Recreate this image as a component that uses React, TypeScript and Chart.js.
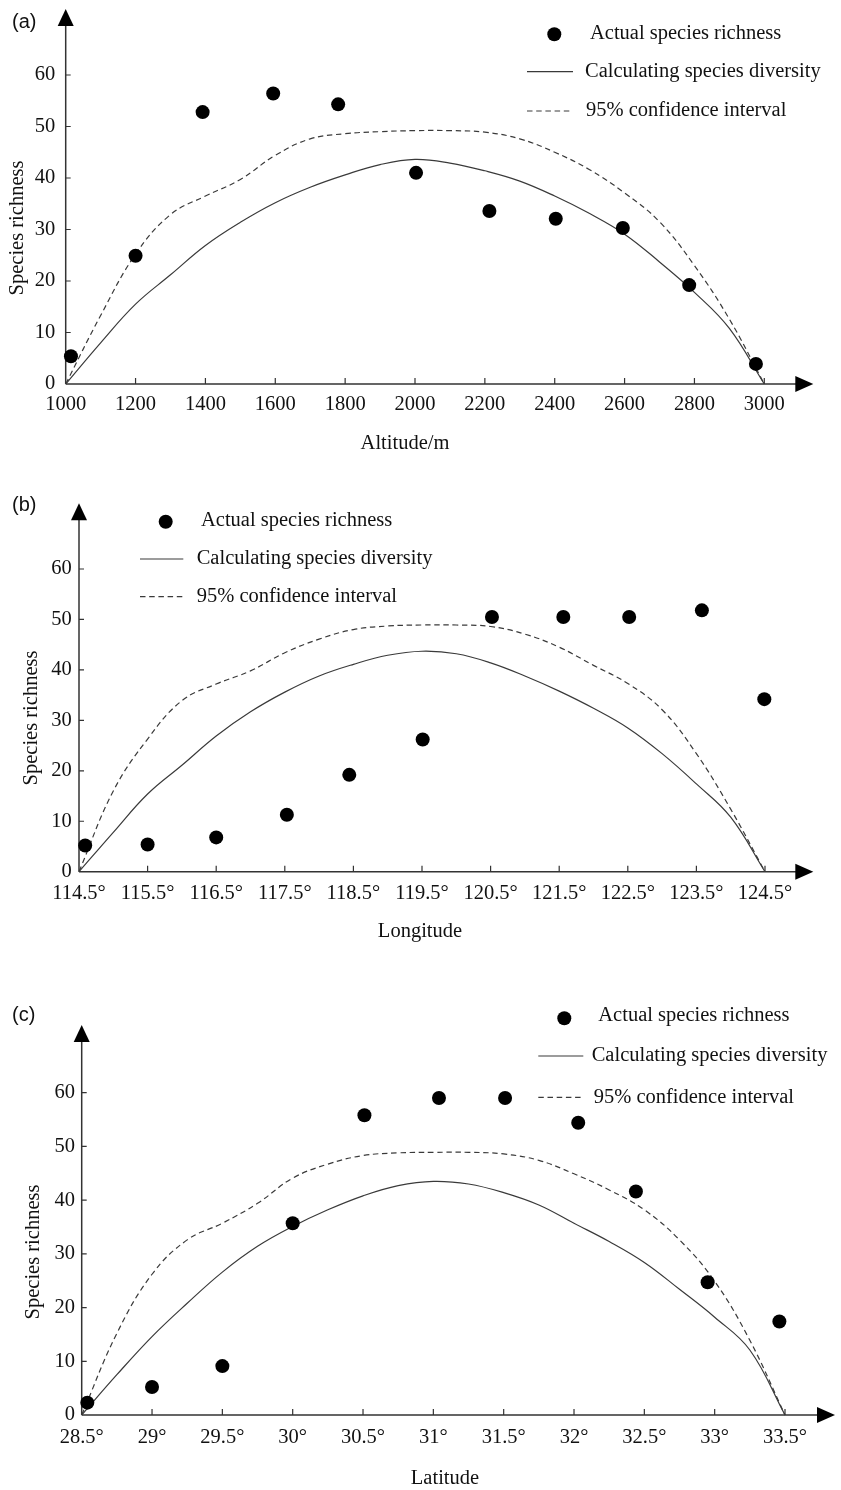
import React, { useEffect, useRef } from 'react';
import { Chart, registerables } from 'chart.js';

Chart.register(...registerables);

// ---------------- data ----------------
const legendLabels = ['Actual species richness', 'Calculating species diversity', '95% confidence interval'];
const richnessTicks = [0, 10, 20, 30, 40, 50, 60];

// (a) altitude
const altitudeTicks = [1000, 1200, 1400, 1600, 1800, 2000, 2200, 2400, 2600, 2800, 3000];
const altitudeTickLabels = ['1000', '1200', '1400', '1600', '1800', '2000', '2200', '2400', '2600', '2800', '3000'];
const altitudeObsX = [1015, 1200, 1392, 1594, 1780, 2003, 2213, 2403, 2595, 2785, 2976];
const altitudeObsY = [5.4, 24.9, 52.8, 56.4, 54.3, 41.0, 33.6, 32.1, 30.3, 19.2, 3.9];
const altitudeCurveX = [1000, 1100, 1200, 1300, 1400, 1500, 1600, 1700, 1800, 1900, 2000, 2100, 2200, 2300, 2400, 2500, 2600, 2700, 2800, 2900, 3000];
const altitudeFitY = [0, 8.0, 15.5, 21.2, 26.9, 31.4, 35.2, 38.2, 40.6, 42.6, 43.6, 42.9, 41.4, 39.4, 36.5, 33.1, 29.1, 23.7, 17.8, 10.8, 0];
const altitudeCiY = [0, 13.3, 25.2, 32.9, 36.5, 39.7, 44.4, 47.6, 48.6, 49.0, 49.2, 49.2, 48.9, 47.6, 45.0, 41.6, 37.1, 31.5, 23.0, 12.6, 0];

// (b) longitude
const longitudeTicks = [114.5, 115.5, 116.5, 117.5, 118.5, 119.5, 120.5, 121.5, 122.5, 123.5, 124.5];
const longitudeTickLabels = ['114.5°', '115.5°', '116.5°', '117.5°', '118.5°', '119.5°', '120.5°', '121.5°', '122.5°', '123.5°', '124.5°'];
const longitudeObsX = [114.59, 115.5, 116.5, 117.53, 118.44, 119.51, 120.52, 121.56, 122.52, 123.58, 124.49];
const longitudeObsY = [5.2, 5.4, 6.8, 11.3, 19.2, 26.2, 50.5, 50.5, 50.5, 51.8, 34.2];
const longitudeCurveX = [114.5, 115, 115.5, 116, 116.5, 117, 117.5, 118, 118.5, 119, 119.5, 120, 120.5, 121, 121.5, 122, 122.5, 123, 123.5, 124, 124.5];
const longitudeFitY = [0, 7.8, 15.4, 21.1, 26.9, 31.7, 35.6, 38.8, 41.1, 42.9, 43.7, 43.2, 41.4, 38.8, 35.8, 32.4, 28.5, 23.4, 17.4, 10.8, 0];
const longitudeCiY = [0, 16.0, 26.3, 33.9, 37.2, 39.8, 43.4, 46.1, 48.0, 48.7, 48.9, 48.9, 48.6, 47.1, 44.5, 40.9, 37.3, 32.1, 23.4, 12.4, 0];

// (c) latitude
const latitudeTicks = [28.5, 29, 29.5, 30, 30.5, 31, 31.5, 32, 32.5, 33, 33.5];
const latitudeTickLabels = ['28.5°', '29°', '29.5°', '30°', '30.5°', '31°', '31.5°', '32°', '32.5°', '33°', '33.5°'];
const latitudeObsX = [28.54, 29.0, 29.5, 30.0, 30.51, 31.04, 31.51, 32.03, 32.44, 32.95, 33.46];
const latitudeObsY = [2.3, 5.2, 9.1, 35.7, 55.8, 59.0, 59.0, 54.4, 41.6, 24.7, 17.4];
const latitudeCurveX = [28.5, 28.75, 29, 29.25, 29.5, 29.75, 30, 30.25, 30.5, 30.75, 31, 31.25, 31.5, 31.75, 32, 32.25, 32.5, 32.75, 33, 33.25, 33.5];
const latitudeFitY = [0, 7.5, 14.6, 20.8, 26.6, 31.4, 35.1, 38.2, 40.8, 42.7, 43.5, 43.0, 41.4, 39.1, 35.7, 32.3, 28.4, 23.4, 18.2, 12.1, 0];
const latitudeCiY = [0, 15.2, 26.2, 32.6, 35.7, 39.4, 44.1, 46.7, 48.3, 48.8, 48.9, 48.9, 48.6, 47.4, 44.9, 41.9, 38.2, 32.6, 24.9, 13.9, 0];

// ---------------- styles ----------------
const SERIF = '"Liberation Serif", "Times New Roman", Times, serif';
const SANS = '"Liberation Sans", Arial, sans-serif';
const TEXT = '#111';
const CURVE = '#3a3a3a';
const AXIS = '#333';
const FS = 20.5;
const DASH = [5.5, 3.7];

type Geo = {
  id: string; label: string; xTitle: string;
  top: number; height: number;
  L: number; R: number; T: number; B: number;
  yTip: number; xTip: number;
  xTitlePos: [number, number]; yTitlePos: [number, number]; tagPos: [number, number];
  yPad: number; xPad: number;
  legDot: [number, number]; legText0: [number, number];
  legLine1: [number, number, number]; legText1: number;
  legLine2: [number, number, number]; legText2: number;
};

type PanelData = {
  ticks: number[]; tickLabels: string[];
  obsX: number[]; obsY: number[];
  curveX: number[]; fitY: number[]; ciY: number[];
};

const panels: { geo: Geo; data: PanelData }[] = [
  {
    geo: {
      id: 'a', label: '(a)', xTitle: 'Altitude/m', top: 0, height: 480,
      L: 65.7, R: 764.3, T: 75, B: 384, yTip: 9, xTip: 813.3,
      xTitlePos: [405, 444], yTitlePos: [17.5, 228], tagPos: [12, 22],
      yPad: 10.5, xPad: 8.7,
      legDot: [554.3, 34.3], legText0: [590, 33.5],
      legLine1: [527, 573, 71.7], legText1: 585,
      legLine2: [527, 573, 111], legText2: 586,
    },
    data: { ticks: altitudeTicks, tickLabels: altitudeTickLabels, obsX: altitudeObsX, obsY: altitudeObsY, curveX: altitudeCurveX, fitY: altitudeFitY, ciY: altitudeCiY },
  },
  {
    geo: {
      id: 'b', label: '(b)', xTitle: 'Longitude', top: 480, height: 495,
      L: 79, R: 765, T: 89, B: 391.7, yTip: 23.3, xTip: 813.3,
      xTitlePos: [420, 451.7], yTitlePos: [32, 238], tagPos: [12, 25],
      yPad: 7.3, xPad: 9.3,
      legDot: [165.7, 41.7], legText0: [201, 40.5],
      legLine1: [140, 183.3, 79], legText1: 196.7,
      legLine2: [140, 183.3, 116.7], legText2: 196.7,
    },
    data: { ticks: longitudeTicks, tickLabels: longitudeTickLabels, obsX: longitudeObsX, obsY: longitudeObsY, curveX: longitudeCurveX, fitY: longitudeFitY, ciY: longitudeCiY },
  },
  {
    geo: {
      id: 'c', label: '(c)', xTitle: 'Latitude', top: 975, height: 515,
      L: 81.7, R: 785, T: 117.7, B: 440, yTip: 50, xTip: 835,
      xTitlePos: [445, 504], yTitlePos: [33.3, 277], tagPos: [12, 40],
      yPad: 6.7, xPad: 10.4,
      legDot: [564.3, 43.3], legText0: [598.3, 40.5],
      legLine1: [538.3, 583.3, 81], legText1: 591.7,
      legLine2: [538.3, 583.3, 122.3], legText2: 593.7,
    },
    data: { ticks: latitudeTicks, tickLabels: latitudeTickLabels, obsX: latitudeObsX, obsY: latitudeObsY, curveX: latitudeCurveX, fitY: latitudeFitY, ciY: latitudeCiY },
  },
];

function Panel({ geo, data }: { geo: Geo; data: PanelData }) {
  const ref = useRef<HTMLCanvasElement>(null);

  useEffect(() => {
    const canvas = ref.current;
    if (!canvas) return;
    const W = 841;

    const decor = {
      id: 'decor_' + geo.id,
      beforeDatasetsDraw(chart: any) {
        const { ctx, chartArea, scales } = chart;
        const xs = scales.x;
        const ys = scales.y;
        const L = chartArea.left;
        const B = chartArea.bottom;
        ctx.save();
        ctx.strokeStyle = AXIS;
        ctx.lineWidth = 1.5;
        ctx.beginPath();
        ctx.moveTo(L, B);
        ctx.lineTo(L, geo.yTip + 8);
        ctx.moveTo(L, B);
        ctx.lineTo(geo.xTip - 8, B);
        ctx.stroke();
        ctx.fillStyle = '#000';
        ctx.beginPath();
        ctx.moveTo(L, geo.yTip);
        ctx.lineTo(L - 8, geo.yTip + 17);
        ctx.lineTo(L + 8, geo.yTip + 17);
        ctx.closePath();
        ctx.fill();
        ctx.beginPath();
        ctx.moveTo(geo.xTip, B);
        ctx.lineTo(geo.xTip - 18, B - 8);
        ctx.lineTo(geo.xTip - 18, B + 8);
        ctx.closePath();
        ctx.fill();
        ctx.lineWidth = 1.2;
        ctx.beginPath();
        xs.ticks.forEach((t: any, i: number) => {
          if (i === 0) return;
          const px = xs.getPixelForValue(t.value);
          ctx.moveTo(px, B);
          ctx.lineTo(px, B - 6);
        });
        ys.ticks.forEach((t: any) => {
          if (t.value === 0) return;
          const py = ys.getPixelForValue(t.value);
          ctx.moveTo(L, py);
          ctx.lineTo(L + 5, py);
        });
        ctx.stroke();
        ctx.restore();
      },
      afterDraw(chart: any) {
        const { ctx } = chart;
        ctx.save();
        ctx.fillStyle = TEXT;
        ctx.textBaseline = 'middle';
        // panel tag
        ctx.font = `20px ${SANS}`;
        ctx.textAlign = 'left';
        ctx.fillText(geo.label, geo.tagPos[0], geo.tagPos[1]);
        // axis titles
        ctx.font = `${FS}px ${SERIF}`;
        ctx.textAlign = 'center';
        ctx.fillText(geo.xTitle, geo.xTitlePos[0], geo.xTitlePos[1]);
        ctx.save();
        ctx.translate(geo.yTitlePos[0], geo.yTitlePos[1]);
        ctx.rotate(-Math.PI / 2);
        ctx.fillText('Species richness', 0, 0);
        ctx.restore();
        // legend
        const ds = chart.data.datasets;
        ctx.textAlign = 'left';
        ctx.fillStyle = '#000';
        ctx.beginPath();
        ctx.arc(geo.legDot[0], geo.legDot[1], 7, 0, Math.PI * 2);
        ctx.fill();
        ctx.fillStyle = TEXT;
        ctx.fillText(ds[0].label, geo.legText0[0], geo.legText0[1]);
        ctx.strokeStyle = CURVE;
        ctx.lineWidth = 1.2;
        ctx.beginPath();
        ctx.moveTo(geo.legLine1[0], geo.legLine1[2]);
        ctx.lineTo(geo.legLine1[1], geo.legLine1[2]);
        ctx.stroke();
        ctx.fillText(ds[1].label, geo.legText1, geo.legLine1[2]);
        ctx.setLineDash(DASH);
        ctx.beginPath();
        ctx.moveTo(geo.legLine2[0], geo.legLine2[2]);
        ctx.lineTo(geo.legLine2[1], geo.legLine2[2]);
        ctx.stroke();
        ctx.setLineDash([]);
        ctx.fillText(ds[2].label, geo.legText2, geo.legLine2[2]);
        ctx.restore();
      },
    };

    const obs = data.obsX.map((x, i) => ({ x, y: data.obsY[i] }));
    const fit = data.curveX.map((x, i) => ({ x, y: data.fitY[i] }));
    const ci = data.curveX.map((x, i) => ({ x, y: data.ciY[i] }));
    const tickFont = { family: SERIF, size: FS };

    const chart = new Chart(canvas, {
      type: 'scatter',
      data: {
        datasets: [
          {
            label: legendLabels[0], data: obs, showLine: false,
            pointRadius: 7, pointBackgroundColor: '#000', pointBorderWidth: 0,
            pointBorderColor: '#000', clip: false as any,
          },
          {
            label: legendLabels[1], data: fit, showLine: true, borderColor: CURVE,
            borderWidth: 1.2, pointRadius: 0, tension: 0.4, clip: false as any,
          },
          {
            label: legendLabels[2], data: ci, showLine: true, borderColor: CURVE,
            borderWidth: 1.2, borderDash: DASH, pointRadius: 0, tension: 0.4, clip: false as any,
          },
        ] as any,
      },
      options: {
        animation: false,
        responsive: false,
        maintainAspectRatio: false,
        events: [],
        layout: { padding: { left: 0, top: geo.T, right: W - geo.R, bottom: 0 } },
        plugins: { legend: { display: false }, tooltip: { enabled: false }, title: { display: false } },
        scales: {
          x: {
            type: 'linear',
            min: data.ticks[0],
            max: data.ticks[data.ticks.length - 1],
            grid: { display: false, drawTicks: false },
            border: { display: false },
            afterBuildTicks: (s: any) => { s.ticks = data.ticks.map((v) => ({ value: v })); },
            afterFit: (s: any) => { s.height = geo.height - geo.B; },
            ticks: {
              autoSkip: false, maxRotation: 0, minRotation: 0,
              padding: geo.xPad, color: TEXT, font: tickFont,
              callback: (_v: any, i: number) => data.tickLabels[i],
            },
          },
          y: {
            type: 'linear',
            min: 0,
            max: 60,
            grid: { display: false, drawTicks: false },
            border: { display: false },
            afterBuildTicks: (s: any) => { s.ticks = richnessTicks.map((v) => ({ value: v })); },
            afterFit: (s: any) => { s.width = geo.L; },
            ticks: {
              autoSkip: false, padding: geo.yPad, color: TEXT, font: tickFont,
              callback: (v: any) => String(v),
            },
          },
        },
      } as any,
      plugins: [decor],
    });
    return () => chart.destroy();
  }, []);

  return (
    <canvas
      ref={ref}
      width={841}
      height={geo.height}
      style={{ position: 'absolute', left: 0, top: geo.top, width: 841, height: geo.height, display: 'block' }}
    />
  );
}

export default function App() {
  return (
    <div style={{ position: 'absolute', left: 0, top: 0, width: 841, height: 1490, background: '#fff', overflow: 'hidden' }}>
      {panels.map((p) => (
        <Panel key={p.geo.id} geo={p.geo} data={p.data} />
      ))}
    </div>
  );
}
